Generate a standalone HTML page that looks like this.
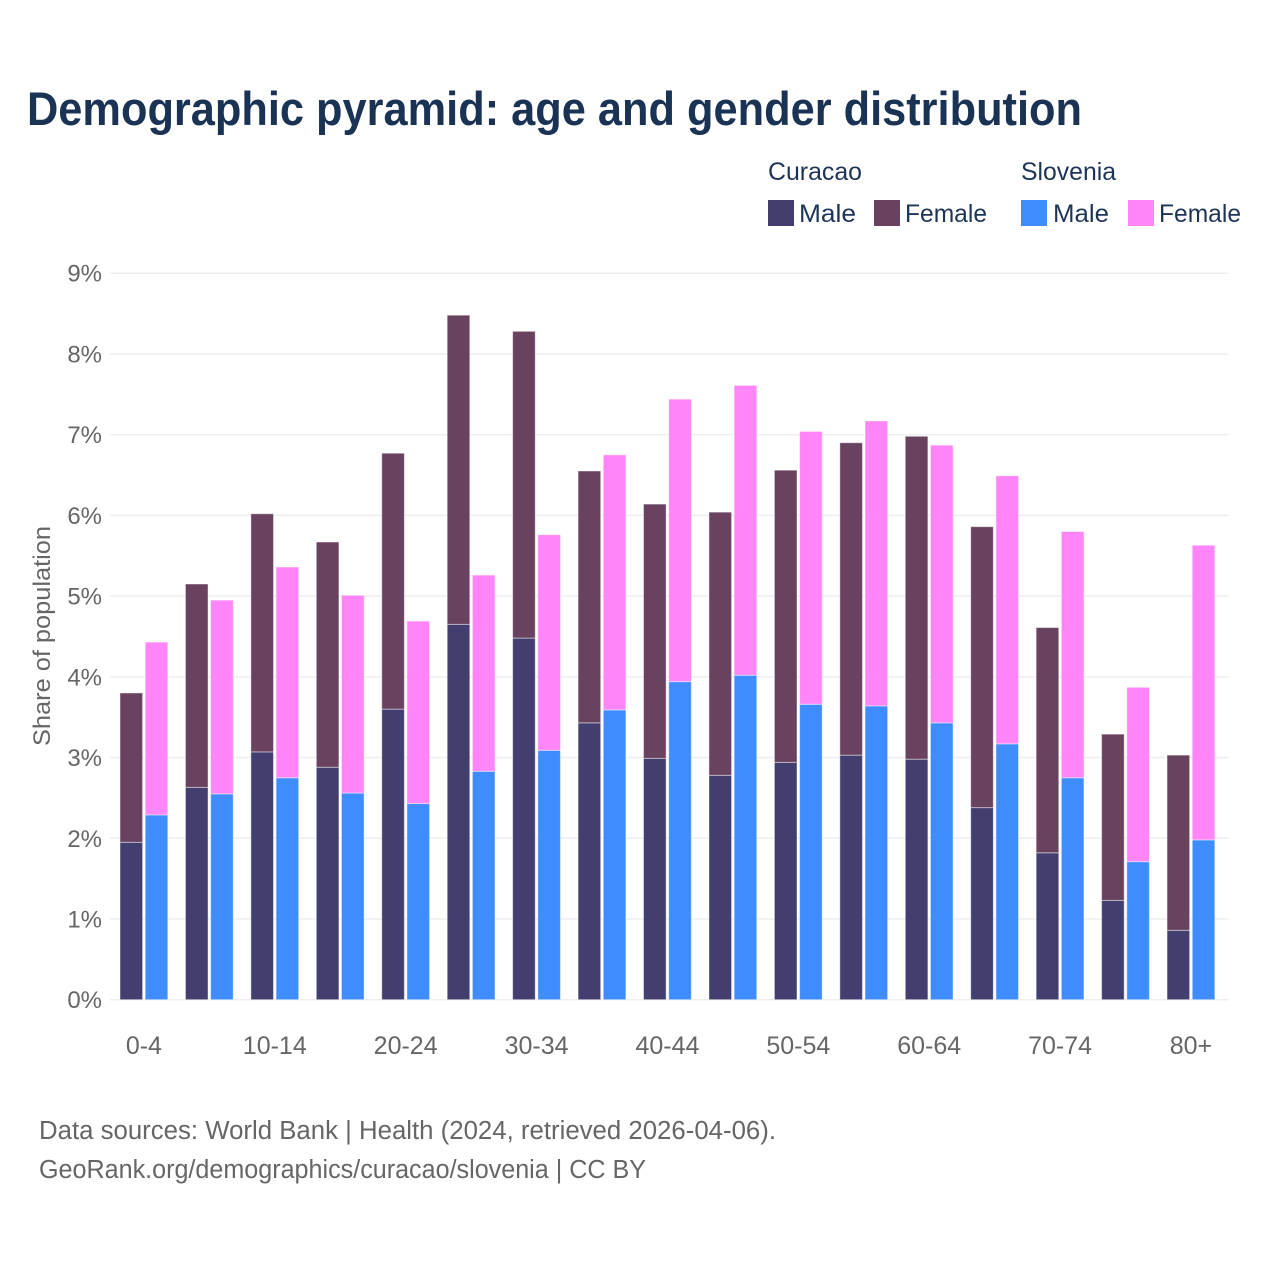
<!DOCTYPE html>
<html lang="en">
<head>
<meta charset="utf-8">
<title>Demographic pyramid</title>
<style>
html,body{margin:0;padding:0;background:#fff}
svg{display:block;font-family:"Liberation Sans",sans-serif}
</style>
</head>
<body>
<svg id="chart" xmlns="http://www.w3.org/2000/svg" width="1280" height="1280" viewBox="0 0 1280 1280">
<rect width="1280" height="1280" fill="#fff"/>
<text x="27" y="125" font-size="47" font-weight="700" fill="#1a3355" textLength="1055" lengthAdjust="spacingAndGlyphs">Demographic pyramid: age and gender distribution</text>

<g font-size="25" fill="#1c3557">
<text x="768" y="180" textLength="94" lengthAdjust="spacingAndGlyphs">Curacao</text>
<text x="1021" y="180" textLength="95" lengthAdjust="spacingAndGlyphs">Slovenia</text>
<rect x="768" y="200" width="26" height="26" fill="#423f70"/>
<text x="799" y="222" textLength="57" lengthAdjust="spacingAndGlyphs">Male</text>
<rect x="874" y="200" width="26" height="26" fill="#68425f"/>
<text x="905" y="222" textLength="82" lengthAdjust="spacingAndGlyphs">Female</text>
<rect x="1021" y="200" width="26" height="26" fill="#3f8cff"/>
<text x="1053" y="222" textLength="56" lengthAdjust="spacingAndGlyphs">Male</text>
<rect x="1128" y="200" width="26" height="26" fill="#ff85f8"/>
<text x="1159" y="222" textLength="82" lengthAdjust="spacingAndGlyphs">Female</text>
</g>

<g id="grid"></g>
<g id="y-axis"></g>
<g id="bars"></g>
<g id="x-axis"></g>

<text transform="translate(50,636) rotate(-90)" text-anchor="middle" font-size="24" fill="#666" textLength="220" lengthAdjust="spacingAndGlyphs">Share of population</text>

<text x="39" y="1139" font-size="25.5" fill="#666" textLength="737" lengthAdjust="spacingAndGlyphs">Data sources: World Bank | Health (2024, retrieved 2026-04-06).</text>
<text x="39" y="1178" font-size="25.5" fill="#666" textLength="607" lengthAdjust="spacingAndGlyphs">GeoRank.org/demographics/curacao/slovenia | CC BY</text>
</svg>

<script>
const categories = ['0-4','5-9','10-14','15-19','20-24','25-29','30-34','35-39','40-44','45-49','50-54','55-59','60-64','65-69','70-74','75-79','80+'];
const visibleCategoryLabels = ['0-4','10-14','20-24','30-34','40-44','50-54','60-64','70-74','80+'];
const yTickValues = [0,1,2,3,4,5,6,7,8,9];
const curacaoMale = [1.95,2.63,3.07,2.88,3.60,4.65,4.48,3.43,2.99,2.78,2.94,3.03,2.98,2.38,1.82,1.23,0.86];
const curacaoFemale = [1.85,2.52,2.95,2.79,3.17,3.83,3.80,3.12,3.15,3.26,3.62,3.87,4.00,3.48,2.79,2.06,2.17];
const sloveniaMale = [2.29,2.55,2.75,2.56,2.43,2.83,3.09,3.59,3.94,4.02,3.66,3.64,3.43,3.17,2.75,1.71,1.98];
const sloveniaFemale = [2.14,2.40,2.61,2.45,2.26,2.43,2.67,3.16,3.50,3.59,3.38,3.53,3.44,3.32,3.05,2.16,3.65];

const NS = 'http://www.w3.org/2000/svg';
const yScale = v => 999.7 - v * 80.72;
const xScale = i => 143.9 + i * 65.44;
const BAR_W = 22.6;
const BAR_OFFSET = 12.6;

function make(tag, attrs, parent, text) {
  const el = document.createElementNS(NS, tag);
  for (const k in attrs) el.setAttribute(k, attrs[k]);
  if (text !== undefined) el.textContent = text;
  parent.appendChild(el);
  return el;
}

const gridG = document.getElementById('grid');
const yG = document.getElementById('y-axis');
yTickValues.forEach(t => {
  const line = make('line', {x1:110, x2:1228, y1:yScale(t), y2:yScale(t), stroke:'#eeeeee', 'stroke-width':1.5}, gridG);
  
  
  const label = make('text', {x:102, y:yScale(t)+8.5, 'text-anchor':'end', 'font-size':24, fill:'#666'}, yG, t + '%');
  
  
});

const barsG = document.getElementById('bars');
function drawSegment(cx, base, value, color, name) {
  const rect = make('rect', {
    x: cx - BAR_W/2, y: yScale(base + value), width: BAR_W,
    height: yScale(base) - yScale(base + value),
    fill: color, stroke: 'rgba(255,255,255,0.45)', 'stroke-width': 1
  }, barsG);
  
  
}
categories.forEach((c, i) => {
  const left = xScale(i) - BAR_OFFSET;
  const right = xScale(i) + BAR_OFFSET;
  drawSegment(left, 0, curacaoMale[i], '#423f70', 'bar-curacao-male');
  drawSegment(left, curacaoMale[i], curacaoFemale[i], '#68425f', 'bar-curacao-female');
  drawSegment(right, 0, sloveniaMale[i], '#3f8cff', 'bar-slovenia-male');
  drawSegment(right, sloveniaMale[i], sloveniaFemale[i], '#ff85f8', 'bar-slovenia-female');
});

const xG = document.getElementById('x-axis');
categories.forEach((c, i) => {
  if (!visibleCategoryLabels.includes(c)) return;
  const label = make('text', {x:xScale(i), y:1054, 'text-anchor':'middle', 'font-size':25, fill:'#666'}, xG, c);
  
  
});
</script>
</body>
</html>
